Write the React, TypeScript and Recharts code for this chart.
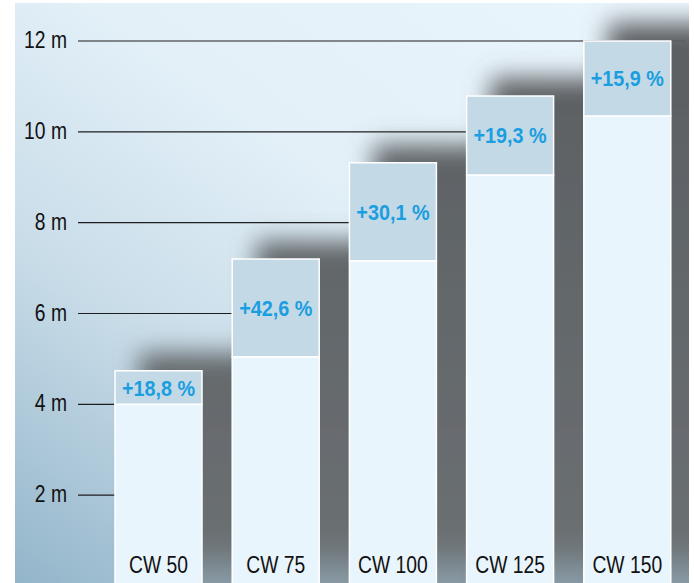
import { BarChart, Bar, XAxis, YAxis, CartesianGrid, LabelList } from "recharts";

const categories = ["CW 50", "CW 75", "CW 100", "CW 125", "CW 150"];
const baseHeights = [4.0, 5.05, 7.16, 9.05, 10.35];
const totalHeights = [4.74, 7.2, 9.32, 10.79, 12.0];
const gains = ["+18,8 %", "+42,6 %", "+30,1 %", "+19,3 %", "+15,9 %"];
const yTicks = [2, 4, 6, 8, 10, 12];

const data = categories.map((name, i) => ({
  name,
  base: baseHeights[i],
  extra: totalHeights[i] - baseHeights[i],
  total: totalHeights[i],
  gain: gains[i],
}));

const FONT = '"Liberation Sans", Arial, sans-serif';

// narrow-looking text: squeeze Liberation Sans horizontally
function NarrowText({ x, y, anchor, size, bold, fill, sx, children }: any) {
  return (
    <text
      transform={`translate(${x},${y}) scale(${sx},1)`}
      textAnchor={anchor}
      fontSize={size}
      fontWeight={bold ? "bold" : "normal"}
      fontFamily={FONT}
      fill={fill}
    >
      {children}
    </text>
  );
}

function YTick(props: any) {
  const { x, y, payload } = props;
  return (
    <NarrowText x={x} y={y + 7} anchor="end" size={23} fill="#111" sx={0.84}>
      {`${payload.value} m`}
    </NarrowText>
  );
}

function NameLabel(props: any) {
  const { x, y, width, height, value } = props;
  return (
    <NarrowText x={x + width / 2} y={y + height - 13} anchor="middle" size={23} fill="#111" sx={0.84}>
      {value}
    </NarrowText>
  );
}

function GainLabel(props: any) {
  const { x, y, width, height, value } = props;
  return (
    <NarrowText x={x + width / 2} y={y + height / 2 + 8} anchor="middle" size={22} bold fill="#1b9ee0" sx={0.9}>
      {value}
    </NarrowText>
  );
}

// base segment + the soft shadow that falls behind the whole column
function BaseShape(props: any) {
  const { x, y, width, height } = props;
  const p = props.payload ?? props;
  const k = height / p.base;
  const top = y + height - p.total * k;
  return (
    <g>
      <rect
        x={x + 24}
        y={top - 18}
        width={width + 50}
        height={y + height - top + 60}
        fill="url(#shadeGrad)"
        filter="url(#blurShadow)"
      />
      <rect x={x} y={y} width={width} height={height} fill="#e9f5fc" stroke="#ffffff" strokeWidth={1.5} />
    </g>
  );
}

export default function App() {
  return (
    <div style={{ position: "absolute", left: 0, top: 0, width: 694, height: 583, background: "#fff" }}>
      <div
        style={{
          position: "absolute",
          left: 15,
          top: 3,
          width: 674,
          height: 580,
          overflow: "hidden",
          background: "linear-gradient(215deg, #eaf5fc 0%, #e3f0f8 40%, #c8dce8 68%, #93b5ca 100%)",
        }}
      >
        <div style={{ position: "absolute", left: -15, top: -3 }}>
          <BarChart width={694} height={590} data={data} margin={{ top: 41, right: 8, bottom: 4, left: 0 }}>
            <defs>
              <filter id="blurShadow" x="-60%" y="-30%" width="220%" height="160%">
                <feGaussianBlur stdDeviation="12" />
              </filter>
              <linearGradient id="shadeGrad" gradientUnits="userSpaceOnUse" x1="0" y1="0" x2="0" y2="590">
                <stop offset="0%" stopColor="#5a5e61" />
                <stop offset="92%" stopColor="#6a6f72" />
                <stop offset="100%" stopColor="#8ea3af" />
              </linearGradient>
            </defs>
            <CartesianGrid horizontal vertical={false} stroke="#1e1e1e" strokeWidth={1.2} />
            <XAxis dataKey="name" hide padding={{ left: 22, right: 0 }} />
            <YAxis
              domain={[0, 12]}
              ticks={yTicks}
              width={78}
              axisLine={false}
              tickLine={false}
              tickSize={0}
              tickMargin={11}
              tick={<YTick />}
            />
            <Bar dataKey="base" stackId="a" barSize={87} shape={BaseShape} isAnimationActive={false}>
              <LabelList dataKey="name" content={<NameLabel />} />
            </Bar>
            <Bar
              dataKey="extra"
              stackId="a"
              barSize={87}
              fill="#c3d9e6"
              stroke="#ffffff"
              strokeWidth={1.5}
              isAnimationActive={false}
            >
              <LabelList dataKey="gain" content={<GainLabel />} />
            </Bar>
          </BarChart>
        </div>
      </div>
    </div>
  );
}
